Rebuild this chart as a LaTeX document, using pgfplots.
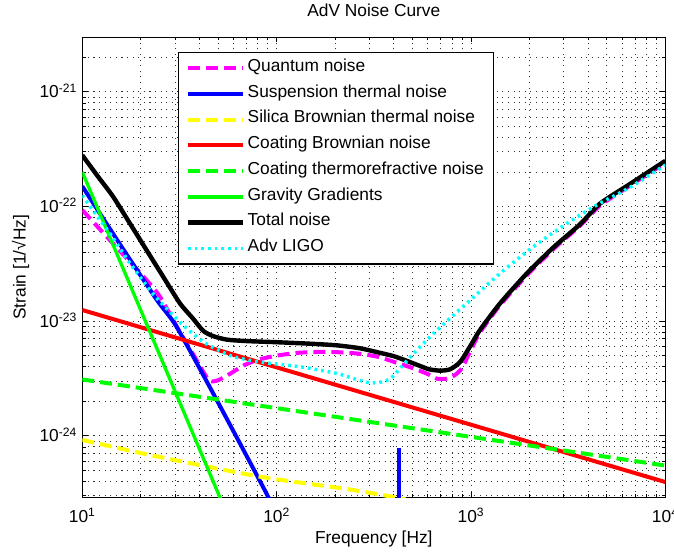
\documentclass[border=0pt]{standalone}
\usepackage{fontspec}
\setmainfont{Liberation Sans}
\usepackage{pgfplots}
\pgfplotsset{compat=1.18}
\usetikzlibrary{calc}

\definecolor{mlmag}{rgb}{1,0,1}
\definecolor{mlblue}{rgb}{0,0,1}
\definecolor{mlyel}{rgb}{1,1,0}
\definecolor{mlred}{rgb}{1,0,0}
\definecolor{mlgreen}{rgb}{0,1,0}
\definecolor{mlcyan}{rgb}{0,1,1}

\begin{document}
\begin{tikzpicture}
\begin{axis}[
    scale only axis,
    width=437.25pt, height=345.2pt,
    xmode=log, ymode=log,
    xmin=10, xmax=10000,
    ymin=2.9e-25, ymax=3e-21,
    xtick={10,100,1000,10000},
    xticklabels={10\textsuperscript{1},10\textsuperscript{2},10\textsuperscript{3},10\textsuperscript{4}},
    ytick={1e-24,1e-23,1e-22,1e-21},
    yticklabels={10\textsuperscript{-24},10\textsuperscript{-23},10\textsuperscript{-22},10\textsuperscript{-21}},
    minor xtick={20,30,40,50,60,70,80,90,200,300,400,500,600,700,800,900,2000,3000,4000,5000,6000,7000,8000,9000},
    minor ytick={3e-25,4e-25,5e-25,6e-25,7e-25,8e-25,9e-25,2e-24,3e-24,4e-24,5e-24,6e-24,7e-24,8e-24,9e-24,2e-23,3e-23,4e-23,5e-23,6e-23,7e-23,8e-23,9e-23,2e-22,3e-22,4e-22,5e-22,6e-22,7e-22,8e-22,9e-22,2e-21},
    grid=both,
    major grid style={black!80, line width=0.65pt, dash pattern=on 0.8pt off 3.4pt},
    minor grid style={black!80, line width=0.65pt, dash pattern=on 0.8pt off 3.4pt},
    axis line style={line width=0.8pt},
    major tick length=4pt, minor tick length=2.5pt,
    every tick/.style={black, line width=0.6pt},
    tick align=inside,
    xticklabel style={anchor=base, yshift=-19pt, font=\fontsize{13}{15}\selectfont},
    yticklabel style={anchor=base east, inner sep=0pt, xshift=-3.75pt, yshift=-4.6pt, font=\fontsize{13}{15}\selectfont},
    title={AdV Noise Curve},
    title style={at={(axis description cs:0.5,1.0282)}, anchor=base, font=\fontsize{13}{15}\selectfont},
    xlabel={Frequency [Hz]},
    xlabel style={at={(axis description cs:0.5,-0.0999)}, anchor=base, font=\fontsize{13}{15}\selectfont},
    ylabel={Strain [1/√Hz]},
    ylabel style={at={(axis description cs:-0.097,0.5)}, anchor=base, font=\fontsize{13}{15}\selectfont},
    legend style={at={(0.1642,0.9674)}, anchor=north west, draw=black, line width=0.9pt,
        fill=white, inner xsep=5.5pt, inner ysep=2pt,
        font=\fontsize{13}{15}\selectfont,
        nodes={inner sep=2pt, text height=10pt, text depth=5.3pt},
        cells={anchor=west}},
    legend image code/.code={\draw[#1] (0pt,0pt) -- (41pt,0pt);},
]

% Quantum noise
\addplot[mlmag, line width=3pt, dash pattern=on 9pt off 4.5pt, smooth, tension=0.4] coordinates {
(10,9.3e-23)(14,5e-23)(20,2.6e-23)(25,1.65e-23)(31.8,8e-24)(37.3,5.1e-24)
(42,3.6e-24)(45.4,3.0e-24)(50,3.05e-24)(58,3.5e-24)(67.5,4.1e-24)(80,4.6e-24)
(100,5.0e-24)(130,5.3e-24)(180,5.4e-24)(250,5.25e-24)(330,4.9e-24)(420,4.3e-24)
(500,3.9e-24)(600,3.45e-24)(667,3.15e-24)(750,3.15e-24)(830,3.4e-24)(900,3.9e-24)
(950,4.7e-24)(1000,5.6e-24)(1114,8.0e-24)(1412,1.38e-23)(1936,2.5e-23)
(2657,4.25e-23)(3642,6.8e-23)(4614,1.02e-22)(6500,1.5e-22)(10000,2.4e-22)
};
\addlegendentry{Quantum noise}

% Suspension thermal noise
\addplot[mlblue, line width=3pt, smooth, tension=0.4] coordinates {
(10,1.5e-22)(15,5.2e-23)(24.2,1.53e-23)(30.6,8.9e-24)(49.2,2.05e-24)(89,3.1e-25)(92,2.6e-25)
};
\addlegendentry{Suspension thermal noise}
\addplot[mlblue, line width=3pt, forget plot] coordinates {(425,2.5e-25)(425,7.8e-25)};

% Silica Brownian thermal noise
\addplot[mlyel, line width=3pt, dash pattern=on 9pt off 4.5pt, smooth, tension=0.4] coordinates {
(10,9.2e-25)(22.3,6.8e-25)(82,4.4e-25)(239,3.4e-25)(460,2.8e-25)
};
\addlegendentry{Silica Brownian thermal noise}

% Coating Brownian noise
\addplot[mlred, line width=3pt] coordinates {(10,1.25e-23)(10000,3.95e-25)};
\addlegendentry{Coating Brownian noise}

% Coating thermorefractive noise
\addplot[mlgreen, line width=3pt, dash pattern=on 9pt off 4.5pt] coordinates {(10,3.1e-24)(10000,5.5e-25)};
\addlegendentry{Coating thermorefractive noise}

% Gravity gradients
\addplot[mlgreen, line width=2.5pt] coordinates {(10,2e-22)(52,2.7e-25)};
\addlegendentry{Gravity Gradients}

% Total noise
\addplot[black, line width=3.3pt, smooth, tension=0.4] coordinates {
(10,2.8e-22)(12,1.84e-22)(14.4,1.22e-22)(17.6,7.1e-23)(21.4,4.17e-23)(26,2.46e-23)
(31.8,1.43e-23)(37,1.06e-23)(42,8.2e-24)(47.2,7.4e-24)(55.3,6.9e-24)(70,6.7e-24)
(100,6.55e-24)(150,6.35e-24)(204,6.15e-24)(268,5.8e-24)(331,5.35e-24)(400,4.95e-24)
(468,4.5e-24)(550,4.05e-24)(610,3.8e-24)(693,3.7e-24)(780,3.8e-24)(879,4.4e-24)
(1000,6.2e-24)(1114,8.4e-24)(1412,1.43e-23)(1936,2.6e-23)(2657,4.4e-23)
(3642,7.0e-23)(4614,1.06e-22)(6500,1.55e-22)(10000,2.5e-22)
};
\addlegendentry{Total noise}

% Adv LIGO
\addplot[mlcyan, line width=2.6pt, dash pattern=on 2pt off 3pt, smooth, tension=0.4] coordinates {
(10,1.25e-22)(12,8.1e-23)(14,5.7e-23)(17.6,3.2e-23)(23,1.75e-23)(28.3,1.2e-23)
(31.8,9.8e-24)(37,7.8e-24)(42,6.6e-24)(47,5.9e-24)(59.8,4.9e-24)(82,4.4e-24)
(132,4.0e-24)(204,3.5e-24)(250,3.15e-24)(300,2.9e-24)(350,2.95e-24)(390,3.2e-24)
(430,3.85e-24)(506,5.2e-24)(641,7.8e-24)(950,1.43e-23)(1412,2.61e-23)
(2094,4.46e-23)(3112,7.1e-23)(4437,1.03e-22)(6500,1.45e-22)(10000,2.3e-22)
};
\addlegendentry{Adv LIGO}

\end{axis}
\pgfresetboundingbox
\path[use as bounding box] ($(current axis.south west)+(-61.7pt,-41pt)$) rectangle ($(current axis.north east)+(6.5pt,27.8pt)$);
\end{tikzpicture}
\end{document}
